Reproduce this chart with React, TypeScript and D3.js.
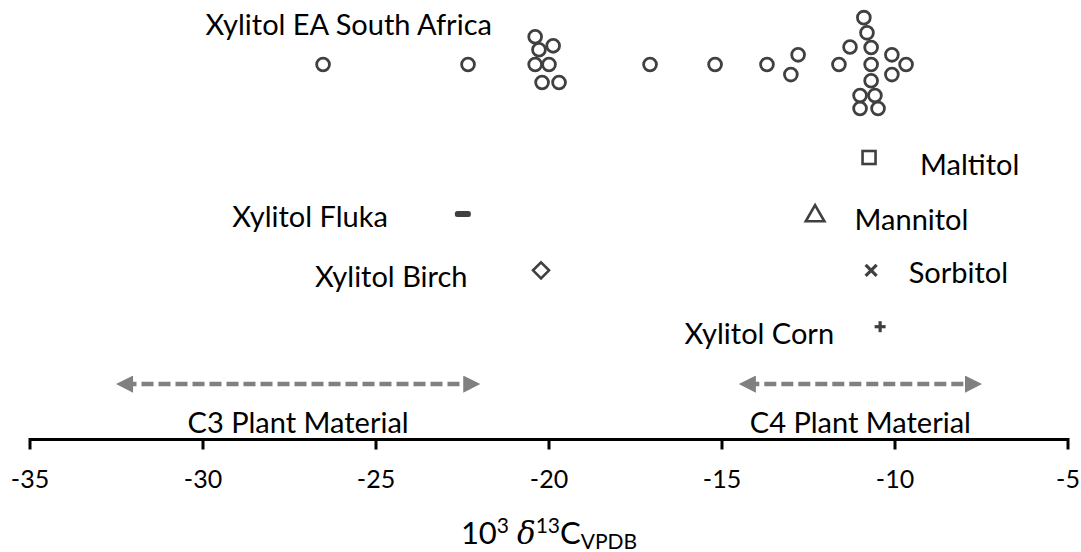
import React from "react";
import * as d3 from "d3";

// ---- data ----
const xTicks = [-35, -30, -25, -20, -15, -10, -5];

// Xylitol EA South Africa (beeswarm): delta 13C values and their stacked row position
const saX = [-26.53, -22.34, -20.4, -19.88, -20.29, -20.4, -20.0, -20.2, -19.71, -17.08, -15.2, -13.7, -12.8, -13.01, -11.62, -11.3, -10.9, -10.81, -10.69, -10.69, -10.69, -11.01, -10.58, -11.01, -10.49, -10.09, -9.68, -10.09];
const saY = [5.65, 5.65, 6.14, 5.98, 5.91, 5.65, 5.65, 5.33, 5.33, 5.65, 5.65, 5.65, 5.82, 5.47, 5.65, 5.96, 6.48, 6.21, 5.95, 5.65, 5.36, 5.1, 5.1, 4.87, 4.87, 5.82, 5.65, 5.47];
const saName = "Xylitol EA South Africa";

const singleNames = ["Maltitol", "Xylitol Fluka", "Mannitol", "Xylitol Birch", "Sorbitol", "Xylitol Corn"];
const singleX = [-10.75, -22.49, -12.31, -20.23, -10.69, -10.43];
const singleY = [4, 3, 3, 2, 2, 1];
const singleShapes = ["square", "dash", "triangle", "diamond", "cross", "plus"];

const rangeNames = ["C3 Plant Material", "C4 Plant Material"];
const rangeFrom = [-32.5, -14.5];
const rangeTo = [-22.0, -7.5];
const rangeY = 0;

// ---- layout ----
const W = 1081;
const H = 552;
const FONT = "Lato, 'Open Sans', sans-serif";
const MARK = "#404040";
const ARROW = "#808080";

// label layout: [dx, baseline dy, anchor]
const labelLayout: Record<string, [number, number, string]> = {
  Maltitol: [51, 17, "start"],
  "Xylitol Fluka": [-75, 13, "end"],
  Mannitol: [39.5, 16, "start"],
  "Xylitol Birch": [-73.5, 16.5, "end"],
  Sorbitol: [37.5, 13, "start"],
  "Xylitol Corn": [-46, 17, "end"],
};

export default function App() {
  const x = d3.scaleLinear().domain([-35, -5]).range([30, 1068]);
  const y = d3.scaleLinear().domain([-1, 1]).range([439.5, 326.7]);
  const fs = 29;

  const marker = (shape: string, cx: number, cy: number, key: number) => {
    const sw = 2.6;
    switch (shape) {
      case "square":
        return <rect key={key} x={cx - 6.5} y={cy - 6.5} width={13} height={13} fill="none" stroke={MARK} strokeWidth={sw} />;
      case "dash":
        return <rect key={key} x={cx - 8} y={cy - 3} width={16} height={6} rx={2.5} fill={MARK} />;
      case "triangle": {
        const p = d3.symbol().type(d3.symbolTriangle).size(150)();
        return <path key={key} d={p || ""} transform={`translate(${cx},${cy + 2})`} fill="none" stroke={MARK} strokeWidth={sw} strokeLinejoin="miter" />;
      }
      case "diamond":
        return <path key={key} d={`M${cx},${cy - 8}L${cx + 8},${cy}L${cx},${cy + 8}L${cx - 8},${cy}Z`} fill="none" stroke={MARK} strokeWidth={sw} />;
      case "cross":
        return (
          <g key={key} stroke={MARK} strokeWidth={3.2}>
            <line x1={cx - 5.5} y1={cy - 5.5} x2={cx + 5.5} y2={cy + 5.5} />
            <line x1={cx - 5.5} y1={cy + 5.5} x2={cx + 5.5} y2={cy - 5.5} />
          </g>
        );
      case "plus":
        return (
          <g key={key} stroke={MARK} strokeWidth={3.2}>
            <line x1={cx - 5.5} y1={cy} x2={cx + 5.5} y2={cy} />
            <line x1={cx} y1={cy - 5.5} x2={cx} y2={cy + 5.5} />
          </g>
        );
      default:
        return null;
    }
  };

  const axisY = y(-1);

  return (
    <svg width={W} height={H} style={{ position: "absolute", left: 0, top: 0, background: "#fff" }} fontFamily={FONT}>
      <defs>
        <marker id="ah" viewBox="0 0 10 10" refX="5" refY="5" markerWidth="4" markerHeight="3.8" orient="auto-start-reverse" markerUnits="strokeWidth">
          <path d="M0,0L10,5L0,10Z" fill={ARROW} />
        </marker>
      </defs>

      {/* Beeswarm circles */}
      {saX.map((v, i) => (
        <circle key={i} cx={x(v)} cy={y(saY[i])} r={6.4} fill="none" stroke={MARK} strokeWidth={2.8} />
      ))}
      <text x={x(-21.65)} y={35} textAnchor="end" fontSize={fs} fill="#000">
        {saName}
      </text>

      {/* Single markers and labels */}
      {singleNames.map((n, i) => {
        const cx = x(singleX[i]);
        const cy = y(singleY[i]);
        const [dx, dy, anchor] = labelLayout[n];
        return (
          <g key={n}>
            {marker(singleShapes[i], cx, cy, i)}
            <text x={cx + dx} y={cy + dy} textAnchor={anchor as any} fontSize={fs} fill="#000">
              {n}
            </text>
          </g>
        );
      })}

      {/* Plant material ranges */}
      {rangeNames.map((n, i) => {
        const x1 = x(rangeFrom[i]);
        const x2 = x(rangeTo[i]);
        const yy = y(rangeY) + 1;
        return (
          <g key={n}>
            <line x1={x1 + 8} y1={yy} x2={x2 - 8} y2={yy} stroke={ARROW} strokeWidth={4.5} strokeDasharray="12 5" markerStart="url(#ah)" markerEnd="url(#ah)" />
            <text x={(x1 + x2) / 2} y={433} textAnchor="middle" fontSize={fs} fill="#000">
              {n}
            </text>
          </g>
        );
      })}

      {/* X axis */}
      <g>
        <line x1={x(-35)} y1={axisY} x2={x(-5)} y2={axisY} stroke="#000" strokeWidth={3} />
        {xTicks.map((t) => (
          <g key={t}>
            <line x1={x(t)} y1={axisY - 1.5} x2={x(t)} y2={axisY + 10} stroke="#000" strokeWidth={3} />
            <text x={x(t)} y={axisY + 48.5} textAnchor="middle" fontSize={25} fill="#000">
              {String(t)}
            </text>
          </g>
        ))}
        <text x={(x(-35) + x(-5)) / 2} y={544} textAnchor="middle" fontSize={31} fill="#000">
          <tspan>10</tspan>
          <tspan fontSize={21} dy={-11}>3</tspan>
          <tspan dy={11}> </tspan>
          <tspan fontFamily="'DejaVu Serif', serif" fontStyle="italic">δ</tspan>
          <tspan fontSize={21} dy={-11}>13</tspan>
          <tspan dy={11}>C</tspan>
          <tspan fontSize={21} dy={5}>VPDB</tspan>
        </text>
      </g>
    </svg>
  );
}
